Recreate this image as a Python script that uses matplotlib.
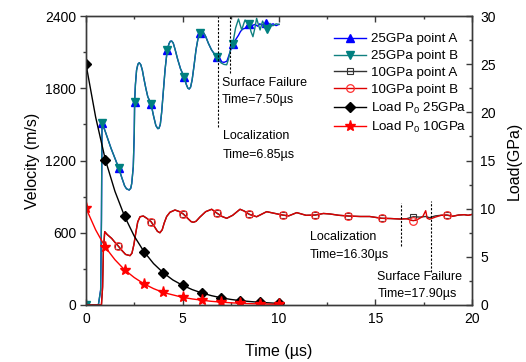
import matplotlib
matplotlib.use("Agg")
import matplotlib.pyplot as plt
import numpy as np

plt.rcParams['font.family'] = ['Liberation Sans', 'DejaVu Sans']
plt.rcParams['mathtext.fontset'] = 'custom'
plt.rcParams['mathtext.rm'] = 'Liberation Sans'
plt.rcParams['mathtext.it'] = 'Liberation Sans:italic'

# ---------------- data ----------------
# shared early part of the 25 GPa velocity history (points A and B coincide)
t25_common = [0, 0.1, 0.2, 0.64, 0.76, 0.80, 0.83, 1.0, 1.3, 1.69, 1.85, 2.0, 2.1, 2.24, 2.32, 2.37,
              2.45, 2.5, 2.52, 2.56, 2.62, 2.69, 2.76, 2.84, 2.92, 3.0, 3.1, 3.2, 3.37, 3.5, 3.62,
              3.72, 3.78, 3.85, 3.92, 4.0, 4.1, 4.21, 4.3, 4.37, 4.44, 4.52, 4.62, 4.75, 4.9, 5.08,
              5.2, 5.28, 5.35, 5.42, 5.5, 5.6, 5.7, 5.8, 5.91, 5.99, 6.08, 6.2, 6.35, 6.5, 6.65, 6.8]
v25_common = [0, 20, 0, 0, 125, 700, 1514, 1440, 1300, 1140, 1060, 990, 965, 955, 970, 1010,
              1149, 1426, 1689, 1830, 1950, 2000, 2012, 1995, 1950, 1880, 1800, 1730, 1669, 1570, 1490,
              1465, 1467, 1500, 1600, 1760, 1960, 2118, 2170, 2190, 2192, 2175, 2120, 2040, 1960, 1896,
              1830, 1800, 1794, 1810, 1870, 1990, 2120, 2210, 2256, 2275, 2265, 2230, 2170, 2120, 2085, 2062]

# 25 GPa, point A (velocity, m/s) after 6.8 µs
t25a = t25_common + [7.0, 7.15, 7.3, 7.4, 7.5, 7.6, 7.7, 7.8, 7.9, 8.0, 8.1, 8.24, 8.35, 8.46, 8.6,
                     8.75, 8.9, 9.0, 9.15, 9.33, 9.5, 9.7, 9.85, 10.0]
v25a = v25_common + [2020, 2015, 2025, 2070, 2120, 2165, 2190, 2215, 2240, 2270, 2290, 2298, 2320, 2331,
                     2320, 2330, 2315, 2335, 2325, 2339, 2325, 2335, 2320, 2331]
m25a = [0, 0.83, 1.69, 2.52, 3.37, 4.21, 5.08, 5.91, 6.8, 7.6, 8.46, 9.33]

# 25 GPa, point B after 6.8 µs
t25b = t25_common + [7.0, 7.15, 7.29, 7.38, 7.5, 7.6, 7.75, 7.9, 8.0, 8.07, 8.16, 8.24, 8.35, 8.46,
                     8.55, 8.65, 8.75, 8.84, 8.93, 9.02, 9.1, 9.15, 9.25, 9.36, 9.45, 9.53, 9.62, 9.7,
                     9.85, 10.0]
v25b = v25_common + [2010, 1998, 1995, 2040, 2130, 2165, 2300, 2375, 2320, 2284, 2330, 2367, 2345, 2331,
                     2270, 2228, 2300, 2381, 2330, 2284, 2330, 2358, 2320, 2290, 2320, 2339, 2320, 2320,
                     2335, 2330]
m25b = [0, 0.83, 1.69, 2.52, 3.37, 4.21, 5.08, 5.91, 6.8, 7.6, 8.46, 9.36]

# 10 GPa velocity, common part (points A and B coincide up to ~16.3 µs)
t10_common = [0, 0.8, 0.86, 0.9, 0.97, 1.1, 1.33, 1.5, 1.67, 1.85, 2.05, 2.28, 2.38, 2.48, 2.58,
              2.68, 2.8, 2.97, 3.15, 3.37, 3.55, 3.7, 3.83, 3.95, 4.05, 4.18, 4.35, 4.61, 4.85,
              5.04, 5.3, 5.45, 5.56, 5.7, 5.9, 6.2, 6.51, 6.8, 7.05, 7.29, 7.6, 7.98, 8.2, 8.46,
              8.84, 9.36, 9.8, 10.19, 10.5, 10.92, 11.4, 11.87, 12.3, 12.64, 13.1, 13.59, 14.2,
              14.7, 15.32, 15.8, 16.27, 16.6]
v10_common = [0, 0, 150, 450, 609, 585, 553, 520, 490, 455, 420, 410, 430, 500, 600,
              690, 733, 739, 720, 692, 650, 612, 600, 625, 680, 735, 770, 789, 775,
              756, 715, 692, 687, 695, 730, 775, 795, 761, 735, 720, 745, 795, 780, 753,
              733, 775, 760, 747, 740, 767, 745, 747, 760, 756, 745, 739, 735,
              735, 720, 718, 714, 716]

# 10 GPa, point B (red)
t10b = t10_common + [16.96, 17.2, 17.45, 17.6, 17.68, 17.8, 18.1, 18.4, 18.69, 19.0, 19.3, 19.6, 19.8, 20.0]
v10b = v10_common + [700, 712, 735, 783, 720, 712, 730, 745, 747, 737, 747, 750, 745, 752]
m10b = [1.67, 3.37, 5.04, 6.8, 8.46, 10.19, 11.87, 13.59, 15.32, 16.96, 18.69]

# 10 GPa, point A (dark)
t10a = t10_common + [16.96, 17.3, 17.6, 17.8, 18.1, 18.4, 18.69, 19.0, 19.3, 19.6, 19.8, 20.0]
v10a = v10_common + [733, 730, 735, 725, 740, 745, 747, 737, 747, 750, 745, 752]
m10a = [1.67, 3.37, 5.04, 6.8, 8.46, 10.19, 11.87, 13.59, 15.32, 16.96, 18.69]

# Loads (GPa)
tload = [0, 0.5, 1, 1.5, 2, 2.5, 3, 3.5, 4, 4.5, 5, 5.5, 6, 6.5, 7, 7.5, 8, 8.5, 9, 9.5, 10]
load25 = [25, 19.5, 15.1, 11.8, 9.2, 7.15, 5.55, 4.3, 3.35, 2.6, 2.05, 1.6, 1.25, 0.97, 0.75,
          0.58, 0.45, 0.36, 0.28, 0.22, 0.17]
load10 = [10.05, 7.8, 6.0, 4.7, 3.65, 2.85, 2.2, 1.7, 1.3, 1.05, 0.8, 0.63, 0.5, 0.38, 0.3,
          0.23, 0.18, 0.14, 0.11, 0.09, 0.07]
mload = [0, 1, 2, 3, 4, 5, 6, 7, 8, 9, 10]

# event markers (time in µs, velocity span)
events = [(6.82, 1481, 2400), (7.48, 1929, 2400), (16.3, 490, 850), (17.85, 277, 864)]


def idx(t, marks):
    return [t.index(m) for m in marks]


# ---------------- figure ----------------
fig = plt.figure(figsize=(5.26, 3.62), dpi=100)
ax = fig.add_axes([86 / 526, 1 - 305 / 362, (472 - 86) / 526, (305 - 16) / 362])
ax2 = ax.twinx()

sc = '#3a3a3a'
l1, = ax.plot(t25a, v25a, color='#0000ff', lw=1.0, marker='^', ms=5.8, mfc='#0000ff', mec='#0000ff',
              markevery=idx(t25a, m25a), label='25GPa point A')
l2, = ax.plot(t25b, v25b, color='#108080', lw=1.0, marker='v', ms=5.8, mfc='#008080', mec='#008080',
              markevery=idx(t25b, m25b), label='25GPa point B')
l3, = ax.plot(t10a, v10a, color='#333333', lw=1.0, marker='s', ms=5, mfc='none', mec='#333333', mew=0.8,
              markevery=idx(t10a, m10a), label='10GPa point A')
l4, = ax.plot(t10b, v10b, color='#dd0000', lw=1.0, marker='o', ms=5.5, mfc='none', mec='#ff3030', mew=0.9,
              markevery=idx(t10b, m10b), label='10GPa point B')
l5, = ax2.plot(tload, load25, color='black', lw=1.0, marker='D', ms=5.5, mfc='black', mec='black',
               markevery=idx(tload, mload), label=r'Load P$_\mathregular{0}$ 25GPa')
l6, = ax2.plot(tload, load10, color='red', lw=1.0, marker='*', ms=8, mfc='red', mec='red',
               markevery=idx(tload, mload), label=r'Load P$_\mathregular{0}$ 10GPa')

for (te, y0, y1) in events:
    ax.plot([te, te], [y0, y1], color='black', lw=0.8, ls=(0, (2, 1.5)))

ax.set_xlim(0, 20)
ax.set_ylim(0, 2400)
ax2.set_ylim(0, 30)
ax.set_xticks([0, 5, 10, 15, 20])
ax.set_xticks([2.5, 7.5, 12.5, 17.5], minor=True)
ax.set_yticks([0, 600, 1200, 1800, 2400])
ax.set_yticks([300, 900, 1500, 2100], minor=True)
ax2.set_yticks([0, 5, 10, 15, 20, 25, 30])
ax2.set_yticks([2.5, 7.5, 12.5, 17.5, 22.5, 27.5], minor=True)

ax.tick_params(axis='x', which='both', direction='in', top=True, colors=sc, labelcolor='black',
               labelsize=10, pad=5)
ax.tick_params(axis='x', which='major', length=4, width=1)
ax.tick_params(axis='x', which='minor', length=2.5, width=1)
ax.tick_params(axis='y', which='both', direction='out', colors=sc, labelcolor='black', labelsize=10, pad=3)
ax.tick_params(axis='y', which='major', length=4, width=1)
ax.tick_params(axis='y', which='minor', length=2.5, width=1)
ax2.tick_params(axis='y', which='both', direction='in', colors=sc, labelcolor='black', labelsize=10, pad=6)
ax2.tick_params(axis='y', which='major', length=4, width=1)
ax2.tick_params(axis='y', which='minor', length=2.5, width=1)

for a in (ax, ax2):
    for s in a.spines.values():
        s.set_color(sc)
        s.set_linewidth(1.0)

ax.set_xlabel('Time (µs)', fontsize=11.5, labelpad=13)
ax.set_ylabel('Velocity (m/s)', fontsize=11.5, labelpad=4)
ax2.set_ylabel('Load(GPa)', fontsize=11.5, labelpad=8)

# annotations
fs = 9
ax.text(7.05, 1844, 'Surface Failure', fontsize=fs, va='center', ha='left')
ax.text(7.05, 1703, 'Time=7.50µs', fontsize=fs, va='center', ha='left')
ax.text(7.1, 1404, 'Localization', fontsize=fs, va='center', ha='left')
ax.text(7.1, 1246, 'Time=6.85µs', fontsize=fs, va='center', ha='left')
ax.text(11.6, 562, 'Localization', fontsize=fs, va='center', ha='left')
ax.text(11.6, 415, 'Time=16.30µs', fontsize=fs, va='center', ha='left')
ax.text(15.09, 230, 'Surface Failure', fontsize=fs, va='center', ha='left')
ax.text(15.09, 89, 'Time=17.90µs', fontsize=fs, va='center', ha='left')

handles = [l1, l2, l3, l4, l5, l6]
leg = ax2.legend(handles=handles, labels=[h.get_label() for h in handles],
                 loc='upper left', bbox_to_anchor=(334 / 526, 1 - 33 / 362), bbox_transform=fig.transFigure,
                 frameon=False, fontsize=9.6, numpoints=1, handlelength=2.4, handletextpad=0.35,
                 labelspacing=0.34, borderpad=0, borderaxespad=0)

fig.savefig('out.png', dpi=100)
